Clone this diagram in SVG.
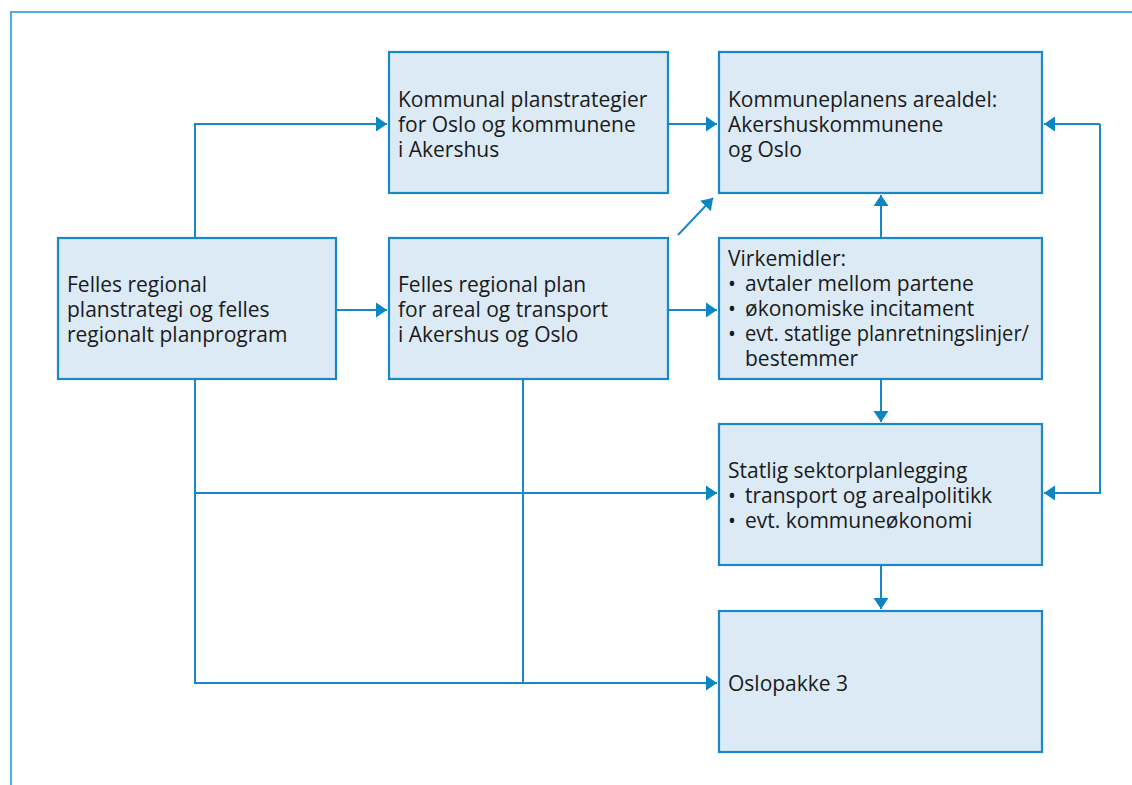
<svg xmlns="http://www.w3.org/2000/svg" width="1132" height="785" viewBox="0 0 1132 785">
<defs>
<style>
.box{fill:#dbeaf5;stroke:#1a88c6;stroke-width:2.2}
.t{font-family:"Open Sans","Noto Sans","Liberation Sans",sans-serif;font-size:21px;fill:#1a1a1a}
.c{fill:none;stroke:#1a88c6;stroke-width:2}
</style>
<marker id="a" markerUnits="userSpaceOnUse" markerWidth="14" markerHeight="18" refX="11" refY="9" orient="auto">
<path d="M0,1.5 L11,9 L0,16.5 z" fill="#0a86c4"/>
</marker>
</defs>
<rect width="1132" height="785" fill="#fff"/>
<path d="M11,785 V12 H1132" fill="none" stroke="#4eb0dc" stroke-width="2.2"/>
<g id="connectors">
<path class="c" d="M195,238 V124 H387" marker-end="url(#a)"/>
<path class="c" d="M336,310 H387" marker-end="url(#a)"/>
<path class="c" d="M668,124 H717" marker-end="url(#a)"/>
<path class="c" d="M668,310 H717" marker-end="url(#a)"/>
<path class="c" d="M678,235 L713,198" marker-end="url(#a)"/>
<path class="c" d="M881,238 V195" marker-end="url(#a)"/>
<path class="c" d="M881,379 V422" marker-end="url(#a)"/>
<path class="c" d="M881,565 V609" marker-end="url(#a)"/>
<path class="c" d="M1100,124 H1044" marker-end="url(#a)"/>
<path class="c" d="M1100,124 V493 H1044" marker-end="url(#a)"/>
<path class="c" d="M195,379 V683 H717" marker-end="url(#a)"/>
<path class="c" d="M195,493 H717" marker-end="url(#a)"/>
<path class="c" d="M523,379 V683"/>
</g>
<g id="n1">
<rect class="box" x="389" y="52" width="279" height="141"/>
<text class="t" x="398" y="107">Kommunal planstrategier</text>
<text class="t" x="398" y="132">for Oslo og kommunene</text>
<text class="t" x="398" y="157">i Akershus</text>
</g>
<g id="n2">
<rect class="box" x="719" y="52" width="323" height="141"/>
<text class="t" x="728" y="107">Kommuneplanens arealdel:</text>
<text class="t" x="728" y="132">Akershuskommunene</text>
<text class="t" x="728" y="157">og Oslo</text>
</g>
<g id="n3">
<rect class="box" x="58" y="238" width="278" height="141"/>
<text class="t" x="67" y="292">Felles regional</text>
<text class="t" x="67" y="317">planstrategi og felles</text>
<text class="t" x="67" y="342">regionalt planprogram</text>
</g>
<g id="n4">
<rect class="box" x="389" y="238" width="279" height="141"/>
<text class="t" x="398" y="292">Felles regional plan</text>
<text class="t" x="398" y="317">for areal og transport</text>
<text class="t" x="398" y="342">i Akershus og Oslo</text>
</g>
<g id="n5">
<rect class="box" x="719" y="238" width="323" height="141"/>
<text class="t" x="728" y="266">Virkemidler:</text>
<text class="t" x="728" y="291">•</text><text class="t" x="745" y="291">avtaler mellom partene</text>
<text class="t" x="728" y="316">•</text><text class="t" x="745" y="316">økonomiske incitament</text>
<text class="t" x="728" y="341">•</text><text class="t" x="745" y="341" textLength="284" lengthAdjust="spacingAndGlyphs">evt. statlige planretningslinjer/</text>
<text class="t" x="745" y="366">bestemmer</text>
</g>
<g id="n6">
<rect class="box" x="719" y="424" width="323" height="141"/>
<text class="t" x="728" y="478">Statlig sektorplanlegging</text>
<text class="t" x="728" y="503">•</text><text class="t" x="745" y="503">transport og arealpolitikk</text>
<text class="t" x="728" y="528">•</text><text class="t" x="745" y="528">evt. kommuneøkonomi</text>
</g>
<g id="n7">
<rect class="box" x="719" y="611" width="323" height="141"/>
<text class="t" x="728" y="691">Oslopakke 3</text>
</g>
</svg>
